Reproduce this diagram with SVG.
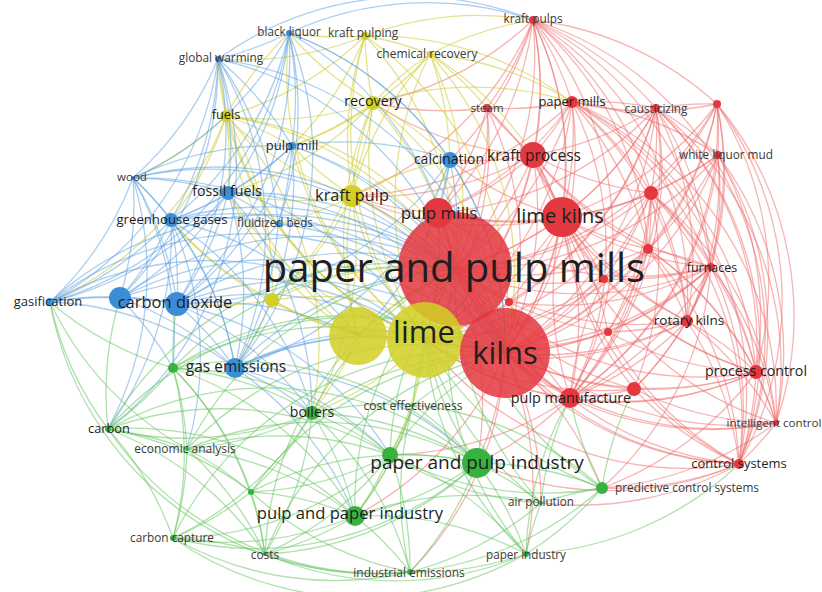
<svg xmlns="http://www.w3.org/2000/svg" width="822" height="592" viewBox="0 0 822 592">
<style>
.er path,.ey path,.eb path,.eg path{fill:none;stroke-width:1.3}
.er path{stroke:#ef6a6a;stroke-opacity:.5}
.ey path{stroke:#cfcc35;stroke-opacity:.55}
.eb path{stroke:#5b9fe0;stroke-opacity:.5}
.eg path{stroke:#62c45c;stroke-opacity:.5}
.r{fill:#e3383f}.y{fill:#d2cf26}.b{fill:#3a8dd6}.g{fill:#37b241}
.big{fill-opacity:.86}
text{font-family:"Open Sans","Noto Sans",sans-serif;text-anchor:middle;fill:#1e1e1e}
.s{fill:#3a3a3a}
</style>
<rect width="822" height="592" fill="#fff"/>
<g id="connectors">
<g class="er">
<path d="M533 20A330 330 0 0 1 455 269"/><path d="M533 20A330 330 0 0 1 505 353"/><path d="M533 20A330 330 0 0 1 562 217"/><path d="M533 20A330 330 0 0 1 438 213"/><path d="M533 20A330 330 0 0 1 533 155"/><path d="M533 20A330 330 0 0 1 572 102"/><path d="M533 20A330 330 0 0 1 487 108"/><path d="M533 20A330 330 0 0 1 656 108"/><path d="M533 20A330 330 0 0 1 651 193"/><path d="M533 20A330 330 0 0 1 570 398"/><path d="M533 20A330 330 0 0 1 425 340"/><path d="M533 20A330 330 0 0 1 352 196"/><path d="M533 20A330 330 0 0 1 373 103"/><path d="M533 20A330 330 0 0 1 450 160"/><path d="M533 20A330 330 0 0 1 711 267"/><path d="M533 20A330 330 0 0 1 717 104"/><path d="M533 20A330 330 0 0 1 648 249"/><path d="M533 20A330 330 0 0 1 687 321"/><path d="M533 20A330 330 0 0 1 739 464"/>
<path d="M572 102A330 330 0 0 1 455 269"/><path d="M572 102A330 330 0 0 1 505 353"/><path d="M572 102A330 330 0 0 1 562 217"/><path d="M572 102A330 330 0 0 1 533 155"/><path d="M572 102A330 330 0 0 1 487 108"/><path d="M572 102A330 330 0 0 1 656 108"/><path d="M572 102A330 330 0 0 1 651 193"/><path d="M572 102A330 330 0 0 1 648 249"/><path d="M572 102A330 330 0 0 1 711 267"/><path d="M572 102A330 330 0 0 1 570 398"/><path d="M572 102A330 330 0 0 1 425 340"/><path d="M572 102A330 330 0 0 1 352 196"/><path d="M572 102A330 330 0 0 1 687 321"/><path d="M572 102A330 330 0 0 1 739 464"/><path d="M572 102A330 330 0 0 1 718 155"/><path d="M572 102A330 330 0 0 1 438 213"/><path d="M572 102A330 330 0 0 1 756 372"/><path d="M572 102A330 330 0 0 1 776 423"/>
<path d="M656 108A330 330 0 0 1 455 269"/><path d="M656 108A330 330 0 0 1 505 353"/><path d="M656 108A330 330 0 0 1 562 217"/><path d="M656 108A330 330 0 0 1 533 155"/><path d="M656 108A330 330 0 0 1 717 104"/><path d="M656 108A330 330 0 0 1 718 155"/><path d="M656 108A330 330 0 0 1 651 193"/><path d="M656 108A330 330 0 0 1 648 249"/><path d="M656 108A330 330 0 0 1 711 267"/><path d="M656 108A330 330 0 0 1 570 398"/><path d="M656 108A330 330 0 0 1 425 340"/><path d="M656 108A330 330 0 0 1 438 213"/><path d="M656 108A330 330 0 0 1 509 302"/><path d="M656 108A330 330 0 0 1 756 372"/><path d="M656 108A330 330 0 0 1 739 464"/><path d="M656 108A330 330 0 0 1 687 321"/><path d="M656 108A330 330 0 0 1 776 423"/>
<path d="M717 104A330 330 0 0 1 718 155"/><path d="M717 104A330 330 0 0 1 651 193"/><path d="M717 104A330 330 0 0 1 711 267"/><path d="M717 104A330 330 0 0 1 648 249"/><path d="M717 104A330 330 0 0 1 505 353"/><path d="M717 104A330 330 0 0 1 455 269"/><path d="M717 104A330 330 0 0 1 562 217"/><path d="M717 104A330 330 0 0 1 756 372"/><path d="M717 104A330 330 0 0 1 776 423"/><path d="M717 104A330 330 0 0 1 739 464"/><path d="M717 104A330 330 0 0 1 572 102"/><path d="M717 104A330 330 0 0 1 687 321"/><path d="M717 104A330 330 0 0 1 570 398"/>
<path d="M718 155A330 330 0 0 1 651 193"/><path d="M718 155A330 330 0 0 1 648 249"/><path d="M718 155A330 330 0 0 1 711 267"/><path d="M718 155A330 330 0 0 1 505 353"/><path d="M718 155A330 330 0 0 1 455 269"/><path d="M718 155A330 330 0 0 1 562 217"/><path d="M718 155A330 330 0 0 1 570 398"/><path d="M718 155A330 330 0 0 1 756 372"/><path d="M718 155A330 330 0 0 1 739 464"/><path d="M718 155A330 330 0 0 1 776 423"/><path d="M718 155A330 330 0 0 1 687 321"/>
<path d="M651 193A330 330 0 0 1 455 269"/><path d="M651 193A330 330 0 0 1 505 353"/><path d="M651 193A330 330 0 0 1 562 217"/><path d="M651 193A330 330 0 0 1 648 249"/><path d="M651 193A330 330 0 0 1 711 267"/><path d="M651 193A330 330 0 0 1 604 279"/><path d="M651 193A330 330 0 0 1 687 321"/><path d="M651 193A330 330 0 0 1 756 372"/><path d="M651 193A330 330 0 0 1 570 398"/><path d="M651 193A330 330 0 0 1 739 464"/><path d="M651 193A330 330 0 0 1 425 340"/><path d="M651 193A330 330 0 0 1 533 155"/><path d="M651 193A330 330 0 0 1 438 213"/><path d="M651 193A330 330 0 0 1 634 389"/><path d="M651 193A330 330 0 0 1 776 423"/><path d="M651 193A330 330 0 0 1 608 332"/>
<path d="M648 249A330 330 0 0 1 455 269"/><path d="M648 249A330 330 0 0 1 505 353"/><path d="M648 249A330 330 0 0 1 711 267"/><path d="M648 249A330 330 0 0 1 687 321"/><path d="M648 249A330 330 0 0 1 756 372"/><path d="M648 249A330 330 0 0 1 570 398"/><path d="M648 249A330 330 0 0 1 425 340"/><path d="M648 249A330 330 0 0 1 739 464"/><path d="M648 249A330 330 0 0 1 562 217"/><path d="M648 249A330 330 0 0 1 533 155"/><path d="M648 249A330 330 0 0 1 776 423"/><path d="M648 249A330 330 0 0 1 608 332"/><path d="M648 249A330 330 0 0 1 604 279"/>
<path d="M711 267A330 330 0 0 1 455 269"/><path d="M711 267A330 330 0 0 1 505 353"/><path d="M711 267A330 330 0 0 1 562 217"/><path d="M711 267A330 330 0 0 1 687 321"/><path d="M711 267A330 330 0 0 1 756 372"/><path d="M711 267A330 330 0 0 1 634 389"/><path d="M711 267A330 330 0 0 1 570 398"/><path d="M711 267A330 330 0 0 1 776 423"/><path d="M711 267A330 330 0 0 1 739 464"/><path d="M711 267A330 330 0 0 1 425 340"/><path d="M711 267A330 330 0 0 1 533 155"/><path d="M711 267A330 330 0 0 1 602 488"/><path d="M711 267A330 330 0 0 1 438 213"/><path d="M711 267A330 330 0 0 1 509 302"/><path d="M711 267A330 330 0 0 1 608 332"/><path d="M711 267A330 330 0 0 1 604 279"/>
<path d="M687 321A330 330 0 0 1 455 269"/><path d="M687 321A330 330 0 0 1 505 353"/><path d="M687 321A330 330 0 0 1 562 217"/><path d="M687 321A330 330 0 0 1 756 372"/><path d="M687 321A330 330 0 0 1 570 398"/><path d="M687 321A330 330 0 0 1 776 423"/><path d="M687 321A330 330 0 0 1 739 464"/><path d="M687 321A330 330 0 0 1 425 340"/><path d="M687 321A330 330 0 0 1 608 332"/><path d="M687 321A330 330 0 0 1 533 155"/><path d="M687 321A330 330 0 0 1 634 389"/>
<path d="M756 372A330 330 0 0 1 455 269"/><path d="M756 372A330 330 0 0 1 505 353"/><path d="M756 372A330 330 0 0 1 570 398"/><path d="M756 372A330 330 0 0 1 776 423"/><path d="M756 372A330 330 0 0 1 739 464"/><path d="M756 372A330 330 0 0 1 634 389"/><path d="M756 372A330 330 0 0 1 602 488"/><path d="M756 372A330 330 0 0 1 562 217"/><path d="M756 372A330 330 0 0 1 533 155"/><path d="M756 372A330 330 0 0 1 425 340"/><path d="M756 372A330 330 0 0 1 608 332"/>
<path d="M776 423A330 330 0 0 1 739 464"/><path d="M776 423A330 330 0 0 1 505 353"/><path d="M776 423A330 330 0 0 1 570 398"/><path d="M776 423A330 330 0 0 1 455 269"/><path d="M776 423A330 330 0 0 1 602 488"/><path d="M776 423A330 330 0 0 1 634 389"/><path d="M776 423A330 330 0 0 1 562 217"/>
<path d="M739 464A330 330 0 0 1 505 353"/><path d="M739 464A330 330 0 0 1 570 398"/><path d="M739 464A330 330 0 0 1 455 269"/><path d="M739 464A330 330 0 0 1 602 488"/><path d="M739 464A330 330 0 0 1 608 332"/><path d="M739 464A330 330 0 0 1 634 389"/><path d="M739 464A330 330 0 0 1 477 463"/><path d="M739 464A330 330 0 0 1 562 217"/><path d="M739 464A330 330 0 0 1 425 340"/><path d="M739 464A330 330 0 0 1 541 503"/>
<path d="M570 398A330 330 0 0 1 455 269"/><path d="M570 398A330 330 0 0 1 505 353"/><path d="M570 398A330 330 0 0 1 562 217"/><path d="M570 398A330 330 0 0 1 425 340"/><path d="M570 398A330 330 0 0 1 477 463"/><path d="M570 398A330 330 0 0 1 390 455"/><path d="M570 398A330 330 0 0 1 509 302"/><path d="M570 398A330 330 0 0 1 438 213"/><path d="M570 398A330 330 0 0 1 608 332"/><path d="M570 398A330 330 0 0 1 604 279"/>
<path d="M634 389A330 330 0 0 1 455 269"/><path d="M634 389A330 330 0 0 1 505 353"/><path d="M634 389A330 330 0 0 1 570 398"/><path d="M634 389A330 330 0 0 1 562 217"/><path d="M634 389A330 330 0 0 1 425 340"/>
<path d="M533 155A330 330 0 0 1 455 269"/><path d="M533 155A330 330 0 0 1 505 353"/><path d="M533 155A330 330 0 0 1 562 217"/><path d="M533 155A330 330 0 0 1 438 213"/><path d="M533 155A330 330 0 0 1 425 340"/><path d="M533 155A330 330 0 0 1 352 196"/><path d="M533 155A330 330 0 0 1 450 160"/><path d="M533 155A330 330 0 0 1 487 108"/><path d="M533 155A330 330 0 0 1 570 398"/><path d="M533 155A330 330 0 0 1 373 103"/>
<path d="M487 108A330 330 0 0 1 455 269"/><path d="M487 108A330 330 0 0 1 505 353"/><path d="M487 108A330 330 0 0 1 562 217"/><path d="M487 108A330 330 0 0 1 425 340"/><path d="M487 108A330 330 0 0 1 373 103"/><path d="M487 108A330 330 0 0 1 438 213"/>
<path d="M562 217A330 330 0 0 1 455 269"/><path d="M562 217A330 330 0 0 1 505 353"/><path d="M562 217A330 330 0 0 1 425 340"/><path d="M562 217A330 330 0 0 1 438 213"/><path d="M562 217A330 330 0 0 1 450 160"/><path d="M562 217A330 330 0 0 1 352 196"/><path d="M562 217A330 330 0 0 1 509 302"/><path d="M562 217A330 330 0 0 1 604 279"/><path d="M562 217A330 330 0 0 1 608 332"/>
<path d="M438 213A330 330 0 0 1 455 269"/><path d="M438 213A330 330 0 0 1 505 353"/><path d="M438 213A330 330 0 0 1 425 340"/><path d="M438 213A330 330 0 0 1 352 196"/>
<path d="M604 279A330 330 0 0 1 455 269"/><path d="M604 279A330 330 0 0 1 505 353"/><path d="M604 279A330 330 0 0 1 425 340"/>
<path d="M509 302A330 330 0 0 1 455 269"/><path d="M509 302A330 330 0 0 1 425 340"/>
<path d="M608 332A330 330 0 0 1 455 269"/><path d="M608 332A330 330 0 0 1 505 353"/><path d="M608 332A330 330 0 0 1 425 340"/>
<path d="M455 269A330 330 0 0 1 505 353"/><path d="M455 269A330 330 0 0 1 477 463"/>
<path d="M505 353A330 330 0 0 1 477 463"/><path d="M505 353A330 330 0 0 1 526 554"/><path d="M505 353A330 330 0 0 1 541 503"/><path d="M505 353A330 330 0 0 1 602 488"/><path d="M505 353A330 330 0 0 1 355 516"/><path d="M505 353A330 330 0 0 1 410 572"/>
</g>
<g class="ey">
<path d="M425 340A330 330 0 0 1 358 336"/><path d="M425 340A330 330 0 0 1 352 196"/><path d="M425 340A330 330 0 0 1 373 103"/><path d="M425 340A330 330 0 0 1 365 36"/><path d="M425 340A330 330 0 0 1 430 54"/><path d="M425 340A330 330 0 0 1 226 116"/><path d="M425 340A330 330 0 0 1 272 300"/><path d="M425 340A330 330 0 0 1 292 146"/><path d="M425 340A330 330 0 0 1 450 160"/><path d="M425 340A330 330 0 0 1 228 193"/><path d="M425 340A330 330 0 0 1 171 220"/><path d="M425 340A330 330 0 0 1 278 224"/><path d="M425 340A330 330 0 0 1 312 413"/><path d="M425 340A330 330 0 0 1 390 455"/><path d="M425 340A330 330 0 0 1 355 516"/><path d="M425 340A330 330 0 0 1 289 33"/><path d="M425 340A330 330 0 0 1 218 59"/><path d="M425 340A330 330 0 0 1 455 269"/><path d="M425 340A330 330 0 0 1 505 353"/>
<path d="M358 336A330 330 0 0 1 352 196"/><path d="M358 336A330 330 0 0 1 373 103"/><path d="M358 336A330 330 0 0 1 226 116"/><path d="M358 336A330 330 0 0 1 228 193"/><path d="M358 336A330 330 0 0 1 312 413"/><path d="M358 336A330 330 0 0 1 455 269"/><path d="M358 336A330 330 0 0 1 505 353"/><path d="M358 336A330 330 0 0 1 272 300"/>
<path d="M352 196A330 330 0 0 1 373 103"/><path d="M352 196A330 330 0 0 1 365 36"/><path d="M352 196A330 330 0 0 1 430 54"/><path d="M352 196A330 330 0 0 1 226 116"/><path d="M352 196A330 330 0 0 1 292 146"/><path d="M352 196A330 330 0 0 1 450 160"/><path d="M352 196A330 330 0 0 1 278 224"/><path d="M352 196A330 330 0 0 1 228 193"/><path d="M352 196A330 330 0 0 1 455 269"/><path d="M352 196A330 330 0 0 1 505 353"/><path d="M352 196A330 330 0 0 1 272 300"/><path d="M352 196A330 330 0 0 1 312 413"/>
<path d="M373 103A330 330 0 0 1 365 36"/><path d="M373 103A330 330 0 0 1 430 54"/><path d="M373 103A330 330 0 0 1 226 116"/><path d="M373 103A330 330 0 0 1 289 33"/><path d="M373 103A330 330 0 0 1 292 146"/><path d="M373 103A330 330 0 0 1 450 160"/><path d="M373 103A330 330 0 0 1 455 269"/><path d="M373 103A330 330 0 0 1 505 353"/><path d="M373 103A330 330 0 0 1 572 102"/><path d="M373 103A330 330 0 0 1 272 300"/><path d="M373 103A330 330 0 0 1 228 193"/>
<path d="M365 36A330 330 0 0 1 430 54"/><path d="M365 36A330 330 0 0 1 289 33"/><path d="M365 36A330 330 0 0 1 455 269"/><path d="M365 36A330 330 0 0 1 505 353"/><path d="M365 36A330 330 0 0 1 226 116"/><path d="M365 36A330 330 0 0 1 572 102"/><path d="M365 36A330 330 0 0 1 533 20"/><path d="M365 36A330 330 0 0 1 218 59"/><path d="M365 36A330 330 0 0 1 292 146"/>
<path d="M430 54A330 330 0 0 1 455 269"/><path d="M430 54A330 330 0 0 1 505 353"/><path d="M430 54A330 330 0 0 1 533 155"/><path d="M430 54A330 330 0 0 1 487 108"/><path d="M430 54A330 330 0 0 1 450 160"/><path d="M430 54A330 330 0 0 1 533 20"/><path d="M430 54A330 330 0 0 1 572 102"/><path d="M430 54A330 330 0 0 1 292 146"/>
<path d="M226 116A330 330 0 0 1 289 33"/><path d="M226 116A330 330 0 0 1 218 59"/><path d="M226 116A330 330 0 0 1 292 146"/><path d="M226 116A330 330 0 0 1 228 193"/><path d="M226 116A330 330 0 0 1 171 220"/><path d="M226 116A330 330 0 0 1 272 300"/><path d="M226 116A330 330 0 0 1 455 269"/><path d="M226 116A330 330 0 0 1 505 353"/><path d="M226 116A330 330 0 0 1 50 302"/><path d="M226 116A330 330 0 0 1 133 178"/><path d="M226 116A330 330 0 0 1 312 413"/>
<path d="M272 300A330 330 0 0 1 177 304"/><path d="M272 300A330 330 0 0 1 235 368"/><path d="M272 300A330 330 0 0 1 455 269"/><path d="M272 300A330 330 0 0 1 505 353"/><path d="M272 300A330 330 0 0 1 171 220"/>
</g>
<g class="eb">
<path d="M289 33A330 330 0 0 1 218 59"/><path d="M289 33A330 330 0 0 1 292 146"/><path d="M289 33A330 330 0 0 1 450 160"/><path d="M289 33A330 330 0 0 1 228 193"/><path d="M289 33A330 330 0 0 1 171 220"/><path d="M289 33A330 330 0 0 1 455 269"/><path d="M289 33A330 330 0 0 1 505 353"/><path d="M289 33A330 330 0 0 1 177 304"/><path d="M289 33A330 330 0 0 1 278 224"/><path d="M289 33A330 330 0 0 1 50 302"/><path d="M289 33A330 330 0 0 1 533 20"/><path d="M289 33A330 330 0 0 1 133 178"/><path d="M289 33A330 330 0 0 1 235 368"/>
<path d="M218 59A330 330 0 0 1 292 146"/><path d="M218 59A330 330 0 0 1 133 178"/><path d="M218 59A330 330 0 0 1 228 193"/><path d="M218 59A330 330 0 0 1 171 220"/><path d="M218 59A330 330 0 0 1 50 302"/><path d="M218 59A330 330 0 0 1 177 304"/><path d="M218 59A330 330 0 0 1 235 368"/><path d="M218 59A330 330 0 0 1 120 298"/><path d="M218 59A330 330 0 0 1 455 269"/><path d="M218 59A330 330 0 0 1 505 353"/><path d="M218 59A330 330 0 0 1 108 429"/><path d="M218 59A330 330 0 0 1 278 224"/><path d="M218 59A330 330 0 0 1 533 20"/>
<path d="M292 146A330 330 0 0 1 450 160"/><path d="M292 146A330 330 0 0 1 228 193"/><path d="M292 146A330 330 0 0 1 278 224"/><path d="M292 146A330 330 0 0 1 455 269"/><path d="M292 146A330 330 0 0 1 505 353"/><path d="M292 146A330 330 0 0 1 177 304"/><path d="M292 146A330 330 0 0 1 171 220"/><path d="M292 146A330 330 0 0 1 235 368"/>
<path d="M450 160A330 330 0 0 1 455 269"/><path d="M450 160A330 330 0 0 1 505 353"/><path d="M450 160A330 330 0 0 1 177 304"/><path d="M450 160A330 330 0 0 1 235 368"/><path d="M450 160A330 330 0 0 1 438 213"/><path d="M450 160A330 330 0 0 1 358 336"/>
<path d="M133 178A330 330 0 0 1 228 193"/><path d="M133 178A330 330 0 0 1 171 220"/><path d="M133 178A330 330 0 0 1 50 302"/><path d="M133 178A330 330 0 0 1 120 298"/><path d="M133 178A330 330 0 0 1 177 304"/><path d="M133 178A330 330 0 0 1 235 368"/><path d="M133 178A330 330 0 0 1 292 146"/><path d="M133 178A330 330 0 0 1 455 269"/><path d="M133 178A330 330 0 0 1 505 353"/><path d="M133 178A330 330 0 0 1 108 429"/><path d="M133 178A330 330 0 0 1 173 368"/><path d="M133 178A330 330 0 0 1 425 340"/>
<path d="M228 193A330 330 0 0 1 171 220"/><path d="M228 193A330 330 0 0 1 278 224"/><path d="M228 193A330 330 0 0 1 50 302"/><path d="M228 193A330 330 0 0 1 177 304"/><path d="M228 193A330 330 0 0 1 235 368"/><path d="M228 193A330 330 0 0 1 455 269"/><path d="M228 193A330 330 0 0 1 505 353"/><path d="M228 193A330 330 0 0 1 312 413"/><path d="M228 193A330 330 0 0 1 120 298"/>
<path d="M171 220A330 330 0 0 1 50 302"/><path d="M171 220A330 330 0 0 1 120 298"/><path d="M171 220A330 330 0 0 1 177 304"/><path d="M171 220A330 330 0 0 1 235 368"/><path d="M171 220A330 330 0 0 1 455 269"/><path d="M171 220A330 330 0 0 1 505 353"/><path d="M171 220A330 330 0 0 1 312 413"/><path d="M171 220A330 330 0 0 1 108 429"/><path d="M171 220A330 330 0 0 1 187 449"/><path d="M171 220A330 330 0 0 1 278 224"/><path d="M171 220A330 330 0 0 1 358 336"/>
<path d="M278 224A330 330 0 0 1 177 304"/><path d="M278 224A330 330 0 0 1 455 269"/><path d="M278 224A330 330 0 0 1 505 353"/><path d="M278 224A330 330 0 0 1 235 368"/>
<path d="M50 302A330 330 0 0 1 120 298"/><path d="M50 302A330 330 0 0 1 177 304"/><path d="M50 302A330 330 0 0 1 235 368"/><path d="M50 302A330 330 0 0 1 455 269"/><path d="M50 302A330 330 0 0 1 505 353"/><path d="M50 302A330 330 0 0 1 425 340"/>
<path d="M120 298A330 330 0 0 1 177 304"/><path d="M120 298A330 330 0 0 1 235 368"/><path d="M120 298A330 330 0 0 1 455 269"/><path d="M120 298A330 330 0 0 1 505 353"/><path d="M120 298A330 330 0 0 1 173 368"/><path d="M120 298A330 330 0 0 1 425 340"/>
<path d="M177 304A330 330 0 0 1 235 368"/><path d="M177 304A330 330 0 0 1 455 269"/><path d="M177 304A330 330 0 0 1 505 353"/><path d="M177 304A330 330 0 0 1 425 340"/><path d="M177 304A330 330 0 0 1 312 413"/><path d="M177 304A330 330 0 0 1 390 455"/><path d="M177 304A330 330 0 0 1 358 336"/>
<path d="M235 368A330 330 0 0 1 455 269"/><path d="M235 368A330 330 0 0 1 505 353"/><path d="M235 368A330 330 0 0 1 425 340"/><path d="M235 368A330 330 0 0 1 312 413"/><path d="M235 368A330 330 0 0 1 390 455"/><path d="M235 368A330 330 0 0 1 477 463"/><path d="M235 368A330 330 0 0 1 355 516"/><path d="M235 368A330 330 0 0 1 358 336"/>
</g>
<g class="eg">
<path d="M173 368A330 330 0 0 1 312 413"/><path d="M173 368A330 330 0 0 1 108 429"/><path d="M173 368A330 330 0 0 1 187 449"/><path d="M173 368A330 330 0 0 1 390 455"/><path d="M173 368A330 330 0 0 1 477 463"/><path d="M173 368A330 330 0 0 1 355 516"/><path d="M173 368A330 330 0 0 1 173 538"/><path d="M173 368A330 330 0 0 1 265 554"/><path d="M173 368A330 330 0 0 1 455 269"/><path d="M173 368A330 330 0 0 1 505 353"/><path d="M173 368A330 330 0 0 1 425 340"/><path d="M173 368A330 330 0 0 1 50 302"/><path d="M173 368A330 330 0 0 1 177 304"/><path d="M173 368A330 330 0 0 1 251 492"/>
<path d="M312 413A330 330 0 0 1 390 455"/><path d="M312 413A330 330 0 0 1 477 463"/><path d="M312 413A330 330 0 0 1 355 516"/><path d="M312 413A330 330 0 0 1 108 429"/><path d="M312 413A330 330 0 0 1 187 449"/><path d="M312 413A330 330 0 0 1 173 538"/><path d="M312 413A330 330 0 0 1 265 554"/><path d="M312 413A330 330 0 0 1 410 572"/><path d="M312 413A330 330 0 0 1 455 269"/><path d="M312 413A330 330 0 0 1 505 353"/><path d="M312 413A330 330 0 0 1 413 405"/><path d="M312 413A330 330 0 0 1 251 492"/>
<path d="M413 405A330 330 0 0 1 455 269"/><path d="M413 405A330 330 0 0 1 505 353"/><path d="M413 405A330 330 0 0 1 390 455"/><path d="M413 405A330 330 0 0 1 477 463"/><path d="M413 405A330 330 0 0 1 355 516"/><path d="M413 405A330 330 0 0 1 602 488"/>
<path d="M108 429A330 330 0 0 1 187 449"/><path d="M108 429A330 330 0 0 1 355 516"/><path d="M108 429A330 330 0 0 1 173 538"/><path d="M108 429A330 330 0 0 1 265 554"/><path d="M108 429A330 330 0 0 1 390 455"/><path d="M108 429A330 330 0 0 1 477 463"/><path d="M108 429A330 330 0 0 0 410 572"/><path d="M108 429A330 330 0 0 1 455 269"/><path d="M108 429A330 330 0 0 1 505 353"/><path d="M108 429A330 330 0 0 1 50 302"/><path d="M108 429A330 330 0 0 1 120 298"/><path d="M108 429A330 330 0 0 1 251 492"/>
<path d="M187 449A330 330 0 0 1 355 516"/><path d="M187 449A330 330 0 0 1 173 538"/><path d="M187 449A330 330 0 0 1 265 554"/><path d="M187 449A330 330 0 0 1 390 455"/><path d="M187 449A330 330 0 0 1 477 463"/><path d="M187 449A330 330 0 0 1 455 269"/><path d="M187 449A330 330 0 0 1 505 353"/><path d="M187 449A330 330 0 0 1 50 302"/><path d="M187 449A330 330 0 0 1 251 492"/>
<path d="M390 455A330 330 0 0 1 477 463"/><path d="M390 455A330 330 0 0 1 355 516"/><path d="M390 455A330 330 0 0 1 410 572"/><path d="M390 455A330 330 0 0 1 526 554"/><path d="M390 455A330 330 0 0 1 455 269"/><path d="M390 455A330 330 0 0 1 505 353"/><path d="M390 455A330 330 0 0 1 265 554"/><path d="M390 455A330 330 0 0 1 173 538"/><path d="M390 455A330 330 0 0 1 251 492"/>
<path d="M477 463A330 330 0 0 1 355 516"/><path d="M477 463A330 330 0 0 1 265 554"/><path d="M477 463A330 330 0 0 1 410 572"/><path d="M477 463A330 330 0 0 1 526 554"/><path d="M477 463A330 330 0 0 1 541 503"/><path d="M477 463A330 330 0 0 1 602 488"/><path d="M477 463A330 330 0 0 1 425 340"/><path d="M477 463A330 330 0 0 1 173 538"/>
<path d="M251 492A330 330 0 0 1 355 516"/><path d="M251 492A330 330 0 0 1 173 538"/><path d="M251 492A330 330 0 0 1 265 554"/><path d="M251 492A330 330 0 0 1 477 463"/><path d="M251 492A330 330 0 0 1 505 353"/><path d="M251 492A330 330 0 0 0 410 572"/>
<path d="M355 516A330 330 0 0 1 173 538"/><path d="M355 516A330 330 0 0 1 265 554"/><path d="M355 516A330 330 0 0 1 410 572"/><path d="M355 516A330 330 0 0 1 526 554"/><path d="M355 516A330 330 0 0 1 541 503"/><path d="M355 516A330 330 0 0 1 455 269"/>
<path d="M173 538A330 330 0 0 1 265 554"/><path d="M173 538A330 330 0 0 0 410 572"/><path d="M173 538A330 330 0 0 1 505 353"/><path d="M173 538A330 330 0 0 0 526 554"/>
<path d="M265 554A330 330 0 0 0 410 572"/><path d="M265 554A330 330 0 0 0 526 554"/><path d="M265 554A330 330 0 0 1 455 269"/><path d="M265 554A330 330 0 0 1 505 353"/>
<path d="M410 572A330 330 0 0 0 526 554"/><path d="M410 572A330 330 0 0 0 602 488"/><path d="M410 572A330 330 0 0 0 541 503"/><path d="M50 302A330 330 0 0 0 410 572"/><path d="M410 572A330 330 0 0 1 413 405"/>
<path d="M526 554A330 330 0 0 1 541 503"/><path d="M526 554A330 330 0 0 0 602 488"/><path d="M526 554A330 330 0 0 1 455 269"/><path d="M526 554A330 330 0 0 0 739 464"/><path d="M526 554A330 330 0 0 1 425 340"/><path d="M526 554A330 330 0 0 1 570 398"/>
<path d="M541 503A330 330 0 0 1 602 488"/><path d="M541 503A330 330 0 0 1 455 269"/><path d="M541 503A330 330 0 0 1 390 455"/><path d="M541 503A330 330 0 0 1 425 340"/><path d="M541 503A330 330 0 0 1 570 398"/>
<path d="M602 488A330 330 0 0 1 455 269"/><path d="M602 488A330 330 0 0 1 570 398"/><path d="M602 488A330 330 0 0 1 390 455"/><path d="M602 488A330 330 0 0 1 425 340"/><path d="M602 488A330 330 0 0 1 634 389"/>
</g>
</g>
<g id="n-paper-and-pulp-mills"><circle class="r big" cx="455" cy="269" r="57"/><text x="454" y="282" font-size="40">paper and pulp mills</text></g>
<g id="n-yellow-a"><circle class="y big" cx="358" cy="336" r="29"/></g>
<g id="n-lime"><circle class="y big" cx="425" cy="340" r="38"/><text x="424" y="343" font-size="31">lime</text></g>
<g id="n-kilns"><circle class="r big" cx="505" cy="353" r="45"/><text x="505" y="364" font-size="31">kilns</text></g>
<g id="n-lime-kilns"><circle class="r" cx="562" cy="217" r="20"/><text x="560" y="223" font-size="20">lime kilns</text></g>
<g id="n-pulp-mills"><circle class="r" cx="438" cy="213" r="15"/><text x="439" y="219" font-size="17">pulp mills</text></g>
<g id="n-kraft-process"><circle class="r" cx="533" cy="155" r="13"/><text x="534" y="161" font-size="15.5">kraft process</text></g>
<g id="n-paper-mills"><circle class="r" cx="572" cy="102" r="6"/><text x="572" y="106" font-size="13">paper mills</text></g>
<g id="n-steam"><circle class="r" cx="487" cy="108" r="4"/><text class="s" x="487" y="112" font-size="11.5">steam</text></g>
<g id="n-kraft-pulps"><circle class="r" cx="533" cy="20" r="4"/><text class="s" x="533" y="23" font-size="11.8">kraft pulps</text></g>
<g id="n-causticizing"><circle class="r" cx="656" cy="108" r="4"/><text class="s" x="656" y="113" font-size="11.8">causticizing</text></g>
<g id="n-red-a"><circle class="r" cx="717" cy="104" r="4"/></g>
<g id="n-white-liquor-mud"><circle class="r" cx="718" cy="155" r="4"/><text class="s" x="726" y="159" font-size="11.8">white liquor mud</text></g>
<g id="n-red-b"><circle class="r" cx="651" cy="193" r="7"/></g>
<g id="n-red-c"><circle class="r" cx="648" cy="249" r="5"/></g>
<g id="n-red-d"><circle class="r" cx="604" cy="279" r="4"/></g>
<g id="n-red-e"><circle class="r" cx="509" cy="302" r="4"/></g>
<g id="n-red-f"><circle class="r" cx="608" cy="332" r="4"/></g>
<g id="n-furnaces"><circle class="r" cx="711" cy="267" r="4"/><text x="712" y="272" font-size="12.5">furnaces</text></g>
<g id="n-rotary-kilns"><circle class="r" cx="687" cy="321" r="6"/><text x="689" y="325" font-size="13.5">rotary kilns</text></g>
<g id="n-process-control"><circle class="r" cx="756" cy="372" r="7"/><text x="756" y="376" font-size="14.2">process control</text></g>
<g id="n-red-g"><circle class="r" cx="634" cy="389" r="7"/></g>
<g id="n-pulp-manufacture"><circle class="r" cx="570" cy="398" r="10"/><text x="571" y="403" font-size="14.4">pulp manufacture</text></g>
<g id="n-intelligent-control"><circle class="r" cx="776" cy="423" r="3"/><text class="s" x="774" y="427" font-size="11.6">intelligent control</text></g>
<g id="n-control-systems"><circle class="r" cx="739" cy="464" r="5"/><text x="739" y="468" font-size="13">control systems</text></g>
<g id="n-kraft-pulp"><circle class="y" cx="352" cy="196" r="11"/><text x="352" y="201" font-size="16.3">kraft pulp</text></g>
<g id="n-recovery"><circle class="y" cx="373" cy="103" r="7"/><text x="373" y="106" font-size="14.3">recovery</text></g>
<g id="n-kraft-pulping"><circle class="y" cx="365" cy="36" r="4"/><text class="s" x="363" y="37" font-size="11.8">kraft pulping</text></g>
<g id="n-chemical-recovery"><circle class="y" cx="430" cy="54" r="3"/><text class="s" x="427" y="58" font-size="12">chemical recovery</text></g>
<g id="n-fuels"><circle class="y" cx="226" cy="116" r="6"/><text x="226" y="119" font-size="12.8">fuels</text></g>
<g id="n-yellow-b"><circle class="y" cx="272" cy="300" r="7"/></g>
<g id="n-black-liquor"><circle class="b" cx="289" cy="33" r="3"/><text class="s" x="289" y="36" font-size="11.7">black liquor</text></g>
<g id="n-global-warming"><circle class="b" cx="218" cy="59" r="3"/><text class="s" x="221" y="62" font-size="11.8">global warming</text></g>
<g id="n-pulp-mill"><circle class="b" cx="292" cy="146" r="4"/><text x="292" y="150" font-size="13">pulp mill</text></g>
<g id="n-calcination"><circle class="b" cx="450" cy="160" r="8"/><text x="449" y="164" font-size="14">calcination</text></g>
<g id="n-wood"><circle class="b" cx="133" cy="178" r="2"/><text class="s" x="132" y="181" font-size="11.5">wood</text></g>
<g id="n-fossil-fuels"><circle class="b" cx="228" cy="193" r="7"/><text x="227" y="196" font-size="14.2">fossil fuels</text></g>
<g id="n-greenhouse-gases"><circle class="b" cx="171" cy="220" r="7"/><text x="172" y="224" font-size="13.2">greenhouse gases</text></g>
<g id="n-fluidized-beds"><circle class="b" cx="278" cy="224" r="3"/><text class="s" x="275" y="227" font-size="11.7">fluidized beds</text></g>
<g id="n-gasification"><circle class="b" cx="50" cy="302" r="4"/><text x="48" y="306" font-size="13">gasification</text></g>
<g id="n-blue-a"><circle class="b" cx="120" cy="298" r="11"/></g>
<g id="n-carbon-dioxide"><circle class="b" cx="177" cy="304" r="12"/><text x="175" y="308" font-size="16.5">carbon dioxide</text></g>
<g id="n-green-a"><circle class="g" cx="173" cy="368" r="5"/></g>
<g id="n-gas-emissions"><circle class="b" cx="235" cy="368" r="10"/><text x="236" y="372" font-size="15.5">gas emissions</text></g>
<g id="n-boilers"><circle class="g" cx="312" cy="413" r="7"/><text x="312" y="417" font-size="14">boilers</text></g>
<g id="n-cost-effectiveness"><circle class="g" cx="413" cy="405" r="2"/><text class="s" x="413" y="410" font-size="12">cost effectiveness</text></g>
<g id="n-carbon"><circle class="g" cx="108" cy="429" r="3"/><text x="109" y="433" font-size="12.8">carbon</text></g>
<g id="n-economic-analysis"><circle class="g" cx="187" cy="449" r="2"/><text class="s" x="185" y="453" font-size="12">economic analysis</text></g>
<g id="n-green-b"><circle class="g" cx="390" cy="455" r="8"/></g>
<g id="n-paper-and-pulp-industry"><circle class="g" cx="477" cy="463" r="15"/><text x="477" y="469" font-size="19">paper and pulp industry</text></g>
<g id="n-green-c"><circle class="g" cx="251" cy="492" r="3"/></g>
<g id="n-pulp-and-paper-industry"><circle class="g" cx="355" cy="516" r="10"/><text x="350" y="519" font-size="16.6">pulp and paper industry</text></g>
<g id="n-carbon-capture"><circle class="g" cx="173" cy="538" r="3"/><text class="s" x="172" y="542" font-size="11.8">carbon capture</text></g>
<g id="n-costs"><circle class="g" cx="265" cy="554" r="2"/><text class="s" x="265" y="559" font-size="12">costs</text></g>
<g id="n-industrial-emissions"><circle class="g" cx="410" cy="572" r="3"/><text class="s" x="409" y="577" font-size="12">industrial emissions</text></g>
<g id="n-paper-industry"><circle class="g" cx="526" cy="554" r="3"/><text class="s" x="526" y="559" font-size="11.7">paper industry</text></g>
<g id="n-air-pollution"><circle class="g" cx="541" cy="503" r="2"/><text class="s" x="541" y="506" font-size="11.7">air pollution</text></g>
<g id="n-predictive-control-systems"><circle class="g" cx="602" cy="488" r="6"/><text class="s" x="687" y="492" font-size="11.8">predictive control systems</text></g>
</svg>
